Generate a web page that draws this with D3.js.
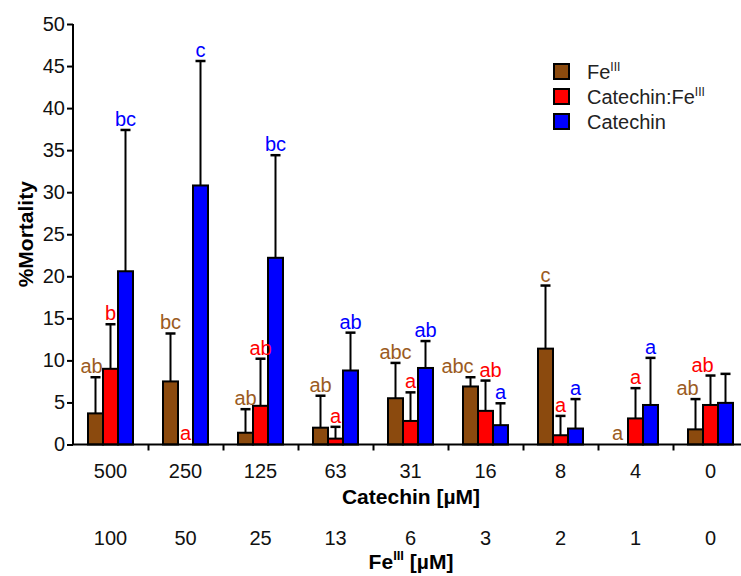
<!DOCTYPE html>
<html>
<head>
<meta charset="utf-8">
<script src="https://cdn.jsdelivr.net/npm/d3@7"></script>
<style>
  body { margin: 0; background: #fff; }
  text { font-family: "Liberation Sans", Arial, sans-serif; }
</style>
</head>
<body>
<div id="chart"></div>
<script>
// concentrations on the two x rows
var catechinConc = ["500", "250", "125", "63", "31", "16", "8", "4", "0"];
var feConc = ["100", "50", "25", "13", "6", "3", "2", "1", "0"];

var seriesNames = ["Fe", "Catechin:Fe", "Catechin"];

// %mortality means and error (upper bar length)
var feMean = [3.7, 7.5, 1.4, 2.0, 5.5, 6.9, 11.4, 0, 1.8];
var feErr = [4.3, 5.7, 2.8, 3.8, 4.2, 1.1, 7.5, 0, 3.6];
var catFeMean = [9.0, 0, 4.6, 0.7, 2.8, 4.0, 1.1, 3.1, 4.7];
var catFeErr = [5.3, 0, 5.6, 1.4, 3.4, 3.6, 2.3, 3.6, 3.5];
var catMean = [20.6, 30.8, 22.2, 8.8, 9.1, 2.3, 1.9, 4.7, 4.95];
var catErr = [16.8, 14.8, 12.2, 4.5, 3.2, 2.6, 3.5, 5.6, 3.45];

// significance letters
var feLetters = ["ab", "bc", "ab", "ab", "abc", "abc", "c", "a", "ab"];
var catFeLetters = ["b", "a", "ab", "a", "a", "ab", "a", "a", "ab"];
var catLetters = ["bc", "c", "bc", "ab", "ab", "a", "a", "a", ""];

var yTicks = [0, 5, 10, 15, 20, 25, 30, 35, 40, 45, 50];

var barColors = ["#8B4A0E", "#FF0000", "#0000FF"];
var letterColors = ["#9B5B22", "#FF0000", "#0000FF"];

var svgWidth = 741;
var svgHeight = 576;

var margin = { top: 24, left: 73 };
var width = 675;   // 9 groups of 75px, runs past the right edge like the original
var height = 420.5;

var svg = d3.select("#chart")
  .append("svg")
  .attr("width", svgWidth)
  .attr("height", svgHeight);

var chartGroup = svg.append("g")
  .attr("transform", `translate(${margin.left}, ${margin.top})`);

var x0 = d3.scaleBand()
  .domain(catechinConc)
  .range([0, width]);

var x1 = d3.scaleBand()
  .domain(seriesNames)
  .range([0, 45]);

var groupPad = (x0.bandwidth() - 45) / 2;

var yScale = d3.scaleLinear()
  .domain([0, 50])
  .range([height, 0]);

// flatten into one row per bar
var means = [feMean, catFeMean, catMean];
var errs = [feErr, catFeErr, catErr];
var letters = [feLetters, catFeLetters, catLetters];
var bars = [];
catechinConc.forEach(function(c, i) {
  seriesNames.forEach(function(s, j) {
    bars.push({ conc: c, series: s, idx: j, group: i,
      value: means[j][i], err: errs[j][i], letter: letters[j][i] });
  });
});

function barX(d) {
  return x0(d.conc) + groupPad + x1(d.series);
}

// bars
chartGroup.selectAll("rect.bar")
  .data(bars.filter(d => d.value > 0))
  .enter()
  .append("rect")
  .attr("class", "bar")
  .attr("x", d => barX(d))
  .attr("y", d => yScale(d.value))
  .attr("width", x1.bandwidth())
  .attr("height", d => yScale(0) - yScale(d.value))
  .attr("fill", d => barColors[d.idx])
  .attr("stroke", "#000")
  .attr("stroke-width", 2);

// error bars (upper only)
var errData = bars.filter(d => d.err > 0);
chartGroup.selectAll("line.err")
  .data(errData)
  .enter()
  .append("line")
  .attr("x1", d => barX(d) + x1.bandwidth() / 2)
  .attr("x2", d => barX(d) + x1.bandwidth() / 2)
  .attr("y1", d => yScale(d.value))
  .attr("y2", d => yScale(d.value + d.err))
  .attr("stroke", "#000")
  .attr("stroke-width", 2);

chartGroup.selectAll("line.cap")
  .data(errData)
  .enter()
  .append("line")
  .attr("x1", d => barX(d) + x1.bandwidth() / 2 - 5)
  .attr("x2", d => barX(d) + x1.bandwidth() / 2 + 5)
  .attr("y1", d => yScale(d.value + d.err))
  .attr("y2", d => yScale(d.value + d.err))
  .attr("stroke", "#000")
  .attr("stroke-width", 2.5);

// small nudges so crowded letters don't collide
var nudge = { "16|Fe": -13, "16|Catechin:Fe": 5, "0|Fe": -8, "0|Catechin:Fe": -8, "500|Fe": -4, "4|Fe": -3 };

chartGroup.selectAll("text.letter")
  .data(bars.filter(d => d.letter !== ""))
  .enter()
  .append("text")
  .attr("class", "letter")
  .attr("x", d => barX(d) + x1.bandwidth() / 2 + (nudge[d.conc + "|" + d.series] || 0))
  .attr("y", d => d.value + d.err > 0 ? yScale(d.value + d.err) - 4 : yScale(0) - 5)
  .attr("text-anchor", "middle")
  .style("font-size", "20px")
  .style("fill", d => letterColors[d.idx])
  .text(d => d.letter);

// y axis
var leftAxis = d3.axisLeft(yScale)
  .tickValues(yTicks)
  .tickSize(6)
  .tickPadding(2);

var yAxisG = chartGroup.append("g").call(leftAxis);
yAxisG.select(".domain").attr("stroke-width", 2).attr("d", `M0,${height}V0`);
yAxisG.selectAll(".tick line").attr("stroke-width", 2);
yAxisG.selectAll(".tick text")
  .style("font-size", "20px")
  .style("font-family", "'Liberation Sans', Arial, sans-serif")
  .attr("fill", "#111");

// x axis: line with ticks at group boundaries
var xBound = d3.scaleLinear().domain([0, 9]).range([0, width]);
var bottomAxis = d3.axisBottom(xBound)
  .tickValues(d3.range(1, 9))
  .tickSize(6)
  .tickFormat("");

var xAxisG = chartGroup.append("g")
  .attr("transform", `translate(0, ${height})`)
  .call(bottomAxis);
xAxisG.select(".domain").attr("stroke-width", 2).attr("d", `M0,0H${width}`);
xAxisG.selectAll(".tick line").attr("stroke-width", 2);

// x labels rows
chartGroup.selectAll("text.catConc")
  .data(catechinConc)
  .enter()
  .append("text")
  .attr("x", d => x0(d) + x0.bandwidth() / 2)
  .attr("y", 478 - margin.top)
  .attr("text-anchor", "middle")
  .style("font-size", "20px")
  .style("fill", "#111")
  .text(d => d);

chartGroup.selectAll("text.feConc")
  .data(feConc)
  .enter()
  .append("text")
  .attr("x", (d, i) => x0(catechinConc[i]) + x0.bandwidth() / 2)
  .attr("y", 545 - margin.top)
  .attr("text-anchor", "middle")
  .style("font-size", "20px")
  .style("fill", "#111")
  .text(d => d);

svg.append("text")
  .attr("x", margin.left + 338)
  .attr("y", 504)
  .attr("text-anchor", "middle")
  .style("font-size", "21px")
  .style("font-weight", "bold")
  .text("Catechin [µM]");

var feTitle = svg.append("text")
  .attr("x", margin.left + 338)
  .attr("y", 569)
  .attr("text-anchor", "middle")
  .style("font-size", "21px")
  .style("font-weight", "bold");
feTitle.append("tspan").text("Fe");
feTitle.append("tspan").attr("dy", -9).style("font-size", "13px").text("III");
feTitle.append("tspan").attr("dy", 9).text(" [µM]");

// y title
svg.append("text")
  .attr("transform", `translate(33, ${margin.top + height / 2}) rotate(-90)`)
  .attr("text-anchor", "middle")
  .style("font-size", "21px")
  .style("font-weight", "bold")
  .text("%Mortality");

// legend
var legend = svg.append("g").attr("transform", "translate(554, 64)");
var legendSup = ["III", "III", ""];
seriesNames.forEach(function(s, j) {
  var row = legend.append("g").attr("transform", `translate(0, ${j * 25})`);
  row.append("rect")
    .attr("width", 15)
    .attr("height", 15)
    .attr("fill", barColors[j])
    .attr("stroke", "#000")
    .attr("stroke-width", 2);
  var t = row.append("text")
    .attr("x", 33)
    .attr("y", 15)
    .style("font-size", "20px")
    .style("fill", "#222");
  t.append("tspan").text(s);
  if (legendSup[j]) {
    t.append("tspan").attr("dy", -8).style("font-size", "12px").text(legendSup[j]);
  }
});
</script>
</body>
</html>
